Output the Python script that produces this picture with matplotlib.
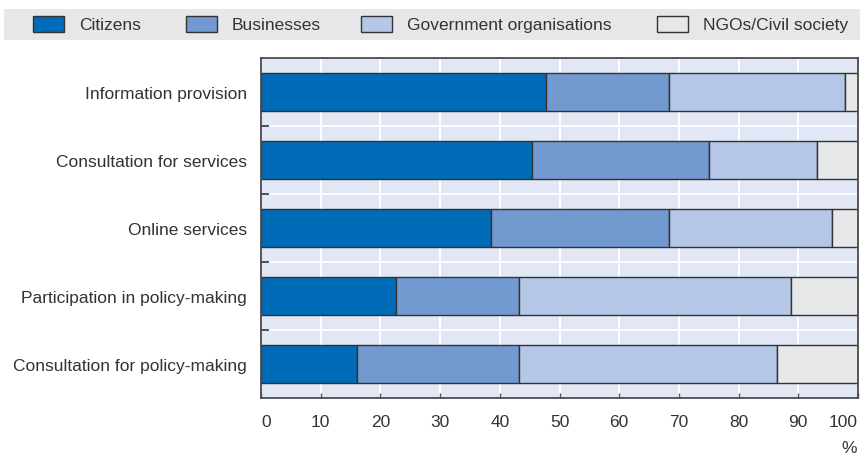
import matplotlib.pyplot as plt
from matplotlib.patches import Rectangle

plt.rcParams["font.family"] = ["Liberation Sans", "DejaVu Sans"]

# shares by type of user, in %
categories = [
    "Information provision",
    "Consultation for services",
    "Online services",
    "Participation in policy-making",
    "Consultation for policy-making",
]
citizens = [47.8, 45.4, 38.6, 22.6, 16.0]
businesses = [20.5, 29.6, 29.7, 20.6, 27.2]
government = [29.5, 18.2, 27.3, 45.5, 43.2]
ngos = [2.2, 6.8, 4.4, 11.3, 13.6]

series = [citizens, businesses, government, ngos]
series_names = ["Citizens", "Businesses", "Government organisations", "NGOs/Civil society"]
colors = ["#006bb6", "#739ad0", "#b4c7e7", "#e6e7e8"]
xticks = list(range(0, 101, 10))

text_col = "#333333"
edge_col = "#333333"
fs = 12.5

fig = plt.figure(figsize=(8.6, 4.56), dpi=100)
ax = fig.add_axes([261 / 860, 1 - 399.3 / 456, 597 / 860, 340.3 / 456])
ax.set_facecolor("#e1e7f5")

ypos = list(range(len(categories)))
left = [0] * len(categories)
for vals, col in zip(series, colors):
    ax.barh(ypos, vals, left=left, height=0.56, color=col,
            edgecolor=edge_col, linewidth=1.0, zorder=3)
    left = [a + b for a, b in zip(left, vals)]

ax.set_xlim(0, 100)
ax.set_ylim(len(categories) - 0.5, -0.5)

# white grid: verticals at each 10, horizontals between bars
ax.set_xticks(xticks)
ax.set_yticks(ypos)
ax.set_yticks([i + 0.5 for i in ypos[:-1]], minor=True)
ax.grid(axis="x", which="major", color="white", linewidth=1.4, zorder=1)
ax.grid(axis="y", which="minor", color="white", linewidth=1.4, zorder=1)
ax.set_axisbelow(True)

ax.set_yticklabels(categories)
ax.tick_params(axis="y", which="major", length=0, pad=10, labelsize=fs, labelcolor=text_col)
ax.tick_params(axis="y", which="minor", direction="in", length=6, width=1.3, color="#444444")
ax.tick_params(axis="x", direction="in", length=3.8, width=1.0, color="#555555",
               pad=11, labelsize=fs, labelcolor=text_col)
xlabels = ax.get_xticklabels()
xlabels[0].set_ha("left")
xlabels[-1].set_ha("right")

for sp in ax.spines.values():
    sp.set_color("#4a4a4a")
    sp.set_linewidth(1.3)
    sp.set_zorder(4)

fig.text(857 / 860, 1 - 449 / 456, "%", ha="right", va="center",
         fontsize=fs, color=text_col)

# legend strip across the top
fig.add_artist(Rectangle((4 / 860, 1 - 40.7 / 456), 856 / 860, 30.7 / 456,
                         transform=fig.transFigure, facecolor="#e6e7e8",
                         edgecolor="none", zorder=0))
patch_x = [33, 186, 361, 657]
for x, name, col in zip(patch_x, series_names, colors):
    fig.add_artist(Rectangle((x / 860, 1 - 33.3 / 456), 31 / 860, 16 / 456,
                             transform=fig.transFigure, facecolor=col,
                             edgecolor=edge_col, linewidth=1.0, zorder=1))
    fig.text((x + 31 + 15) / 860, 1 - 25.5 / 456, name, ha="left", va="center",
             fontsize=fs, color=text_col)

fig.savefig("out.png", dpi=100)
